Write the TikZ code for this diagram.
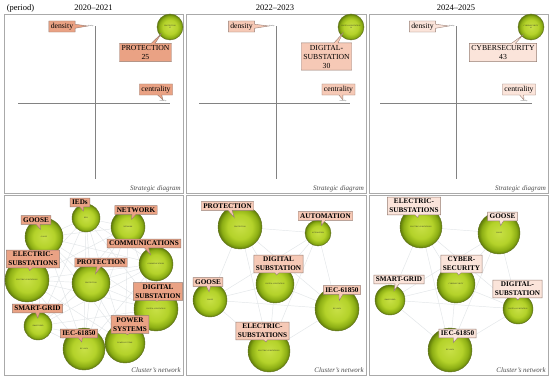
\documentclass[tikz,border=0pt]{standalone}
\usepackage{fontspec}
\setmainfont{Liberation Serif}
\usetikzlibrary{shapes.callouts,calc,backgrounds}
\definecolor{bubA}{RGB}{200,224,70}
\definecolor{bubB}{RGB}{180,210,42}
\definecolor{bubC}{RGB}{140,174,20}
\definecolor{bubD}{RGB}{96,124,10}
\definecolor{bubline}{RGB}{95,112,30}
\definecolor{fillA}{RGB}{234,162,132}
\definecolor{fillB}{RGB}{246,201,182}
\definecolor{fillC}{RGB}{251,228,218}
\definecolor{labline}{RGB}{150,125,115}
\definecolor{panelline}{RGB}{170,170,170}
\definecolor{axisline}{RGB}{130,130,130}
\definecolor{edgecol}{RGB}{226,230,232}
\pgfdeclareradialshading{bubsh}{\pgfpoint{0bp}{0bp}}{color(0bp)=(bubA); color(14bp)=(bubB); color(21bp)=(bubC); color(25bp)=(bubD); color(50bp)=(bubD)}
\newcommand\mybub[5]{\node[bubble, minimum size=#4*2pt] (#1) at (#2,#3) {#5};}
\newcommand\mylab[5]{\node[labB, #1, callout absolute pointer={($(#3,#4)!0.55!(#2.center)$)}] (L#2) at (#3,#4) {#5};}
\tikzset{
  panel/.style={draw=panelline, line width=0.7pt},
  axis/.style={draw=axisline, line width=0.6pt},
  bubble/.style={circle, draw=bubline, line width=0.4pt, shade, shading=bubsh, inner sep=0pt,
    font=\fontsize{1.8}{2.1}\selectfont, text=black!85, align=center},
  lab/.style={rectangle callout, draw=labline, line width=0.4pt, inner xsep=2pt, inner ysep=2pt,
    font=\fontsize{7.7}{9}\selectfont, align=center, callout pointer width=4pt},
  labB/.style={lab, font=\fontsize{7.2}{9}\selectfont\bfseries},
  c1/.style={fill=fillA}, c2/.style={fill=fillB}, c3/.style={fill=fillC},
  tinytxt/.style={font=\fontsize{1.8}{2.1}\selectfont, inner sep=0.3pt, text=black!80},
  title/.style={font=\fontsize{8.5}{10}\selectfont, inner sep=0pt},
  caption/.style={font=\fontsize{7}{8}\selectfont\itshape, text=black!70, inner sep=0pt, anchor=base east},
  edge/.style={draw=edgecol, line width=0.45pt}
}
\begin{document}
\begin{tikzpicture}[x=1pt,y=-1pt]
\useasboundingbox (0,0) rectangle (550,380);
\begin{pgfonlayer}{background}
\fill[white] (0,0) rectangle (550,380);
\end{pgfonlayer}
% titles
\node[title] (t0) at (20.5,8) {(period)};
\node[title] (t1) at (93.5,8) {2020–2021};
\node[title] (t2) at (275,8) {2022–2023};
\node[title] (t3) at (456,8) {2024–2025};
% panels
\draw[panel] (4,14) rectangle (183,193);
\draw[panel] (186,14) rectangle (366,193);
\draw[panel] (369,14) rectangle (548,193);
\draw[panel] (4,195) rectangle (183,375);
\draw[panel] (186,195) rectangle (366,375);
\draw[panel] (369,195) rectangle (548,375);
\node[caption] (s1) at (181,190) {Strategic diagram};
\node[caption] (s2) at (364,190) {Strategic diagram};
\node[caption] (s3) at (546,190) {Strategic diagram};
\node[caption] (n1) at (181,372) {Cluster’s network};
\node[caption] (n2) at (364,372) {Cluster’s network};
\node[caption] (n3) at (546,372) {Cluster’s network};
% ---------- strategic diagrams ----------
% panel 1
\draw[axis] (95,26) -- (95,179);
\draw[axis] (18,103) -- (170,103);
\node[tinytxt, anchor=east] (d1) at (94,26) {density};
\node[tinytxt, anchor=south] (e1) at (163,102.6) {centrality};
\mybub{sb1}{170}{27}{13}{PROTECTION\\25}
\node[lab,c1,callout absolute pointer={(d1.west)}] (Ld1) at (62,26.5) {density};
\node[lab,c1,callout absolute pointer={(e1.north)}] (Le1) at (156,89.5) {centrality};
\node[lab,c1,callout absolute pointer={(161,34)}] (Lsb1) at (145.5,52.5) {PROTECTION\\25};
% panel 2
\draw[axis] (276,26) -- (276,179);
\draw[axis] (199,103) -- (350,103);
\node[tinytxt, anchor=east] (d2) at (275,26) {density};
\node[tinytxt, anchor=south] (e2) at (343,102.6) {centrality};
\mybub{sb2}{351}{27}{13}{DIGITAL-SUBSTATION\\30}
\node[lab,c2,callout absolute pointer={(d2.west)}] (Ld2) at (241.5,26.5) {density};
\node[lab,c2,callout absolute pointer={(e2.north)}] (Le2) at (338.5,89.5) {centrality};
\node[lab,c2,callout absolute pointer={(343,33)}] (Lsb2) at (326.5,56.5) {DIGITAL-\\SUBSTATION\\30};
% panel 3
\draw[axis] (456,26) -- (456,179);
\draw[axis] (380,103) -- (532,103);
\node[tinytxt, anchor=east] (d3) at (455,26) {density};
\node[tinytxt, anchor=south] (e3) at (524,102.6) {centrality};
\mybub{sb3}{531}{27}{13}{CYBERSECURITY\\43}
\node[lab,c3,callout absolute pointer={(d3.west)}] (Ld3) at (422.5,26.5) {density};
\node[lab,c3,callout absolute pointer={(e3.north)}] (Le3) at (519,89.5) {centrality};
\node[lab,c3,callout absolute pointer={(523,35)}] (Lsb3) at (503,52.5) {CYBERSECURITY\\43};
% ---------- cluster networks ----------
% panel 1
\mybub{aieds}{86}{218}{14}{IEDS}
\mybub{anet}{128}{227}{17}{NETWORK}
\mybub{agoose}{44}{237}{19}{GOOSE}
\mybub{acomm}{156}{264}{17}{COMMUNICATIONS}
\mybub{aelec}{27}{280}{22}{ELECTRIC-SUBSTATIONS}
\mybub{aprot}{91}{283}{19}{PROTECTION}
\mybub{adig}{156}{309}{22}{DIGITAL-SUBSTATION}
\mybub{asmart}{38}{326}{14}{SMART-GRID}
\mybub{aiec}{84}{349}{21}{IEC-61850}
\mybub{apow}{125}{343}{20}{POWER-SYSTEMS}
\begin{pgfonlayer}{background}
\foreach \a [count=\i] in {aieds,anet,agoose,acomm,aelec,aprot,adig,asmart,aiec,apow}{
  \foreach \b [count=\j] in {aieds,anet,agoose,acomm,aelec,aprot,adig,asmart,aiec,apow}{
    \ifnum\j>\i \draw[edge] (\a) -- (\b); \fi}}
\end{pgfonlayer}
\mylab{c1}{aieds}{80}{202.5}{IEDs}
\mylab{c1}{anet}{136}{210}{NETWORK}
\mylab{c1}{agoose}{36}{220}{GOOSE}
\mylab{c1}{acomm}{144}{243.5}{COMMUNICATIONS}
\mylab{c1}{aelec}{33}{259}{ELECTRIC-\\SUBSTATIONS}
\mylab{c1}{aprot}{101}{262.5}{PROTECTION}
\mylab{c1}{adig}{158}{291.5}{DIGITAL\\SUBSTATION}
\mylab{c1}{asmart}{37.5}{308.5}{SMART-GRID}
\mylab{c1}{aiec}{79}{333.5}{IEC-61850}
\mylab{c1}{apow}{130}{324.5}{POWER\\SYSTEMS}
% panel 2
\mybub{bprot}{240}{227}{22}{PROTECTION}
\mybub{bauto}{318}{233}{13}{AUTOMATION}
\mybub{bdig}{275}{284}{19}{DIGITAL-SUBSTATION}
\mybub{bgoose}{210}{300}{17}{GOOSE}
\mybub{biec}{337}{309}{22}{IEC-61850}
\mybub{belec}{269}{351}{21}{ELECTRIC-SUBSTATIONS}
\begin{pgfonlayer}{background}
\foreach \a [count=\i] in {bprot,bauto,bdig,bgoose,biec,belec}{
  \foreach \b [count=\j] in {bprot,bauto,bdig,bgoose,biec,belec}{
    \ifnum\j>\i \draw[edge] (\a) -- (\b); \fi}}
\end{pgfonlayer}
\mylab{c2}{bprot}{227.5}{206}{PROTECTION}
\mylab{c2}{bauto}{325.5}{216}{AUTOMATION}
\mylab{c2}{bdig}{278.5}{264}{DIGITAL\\SUBSTATION}
\mylab{c2}{bgoose}{208}{282}{GOOSE}
\mylab{c2}{biec}{342}{290}{IEC-61850}
\mylab{c2}{belec}{262.5}{331}{ELECTRIC-\\SUBSTATIONS}
% panel 3
\mybub{celec}{421}{227}{21}{ELECTRIC-SUBSTATIONS}
\mybub{cgoose}{499}{233}{21}{GOOSE}
\mybub{ccyber}{456}{284}{19}{CYBERSECURITY}
\mybub{csmart}{390}{300}{15}{SMART-GRID}
\mybub{cdig}{518}{309}{15}{DIGITAL-SUBSTATION}
\mybub{ciec}{450}{350}{22}{IEC-61850}
\begin{pgfonlayer}{background}
\foreach \a [count=\i] in {celec,cgoose,ccyber,csmart,cdig,ciec}{
  \foreach \b [count=\j] in {celec,cgoose,ccyber,csmart,cdig,ciec}{
    \ifnum\j>\i \draw[edge] (\a) -- (\b); \fi}}
\end{pgfonlayer}
\mylab{c3}{celec}{414}{206}{ELECTRIC-\\SUBSTATIONS}
\mylab{c3}{cgoose}{502.5}{216.5}{GOOSE}
\mylab{c3}{ccyber}{461.5}{264}{CYBER-\\SECURITY}
\mylab{c3}{csmart}{399}{279.5}{SMART-GRID}
\mylab{c3}{cdig}{517.5}{289}{DIGITAL-\\SUBSTATION}
\mylab{c3}{ciec}{457.5}{333.5}{IEC-61850}
\end{tikzpicture}
\end{document}
